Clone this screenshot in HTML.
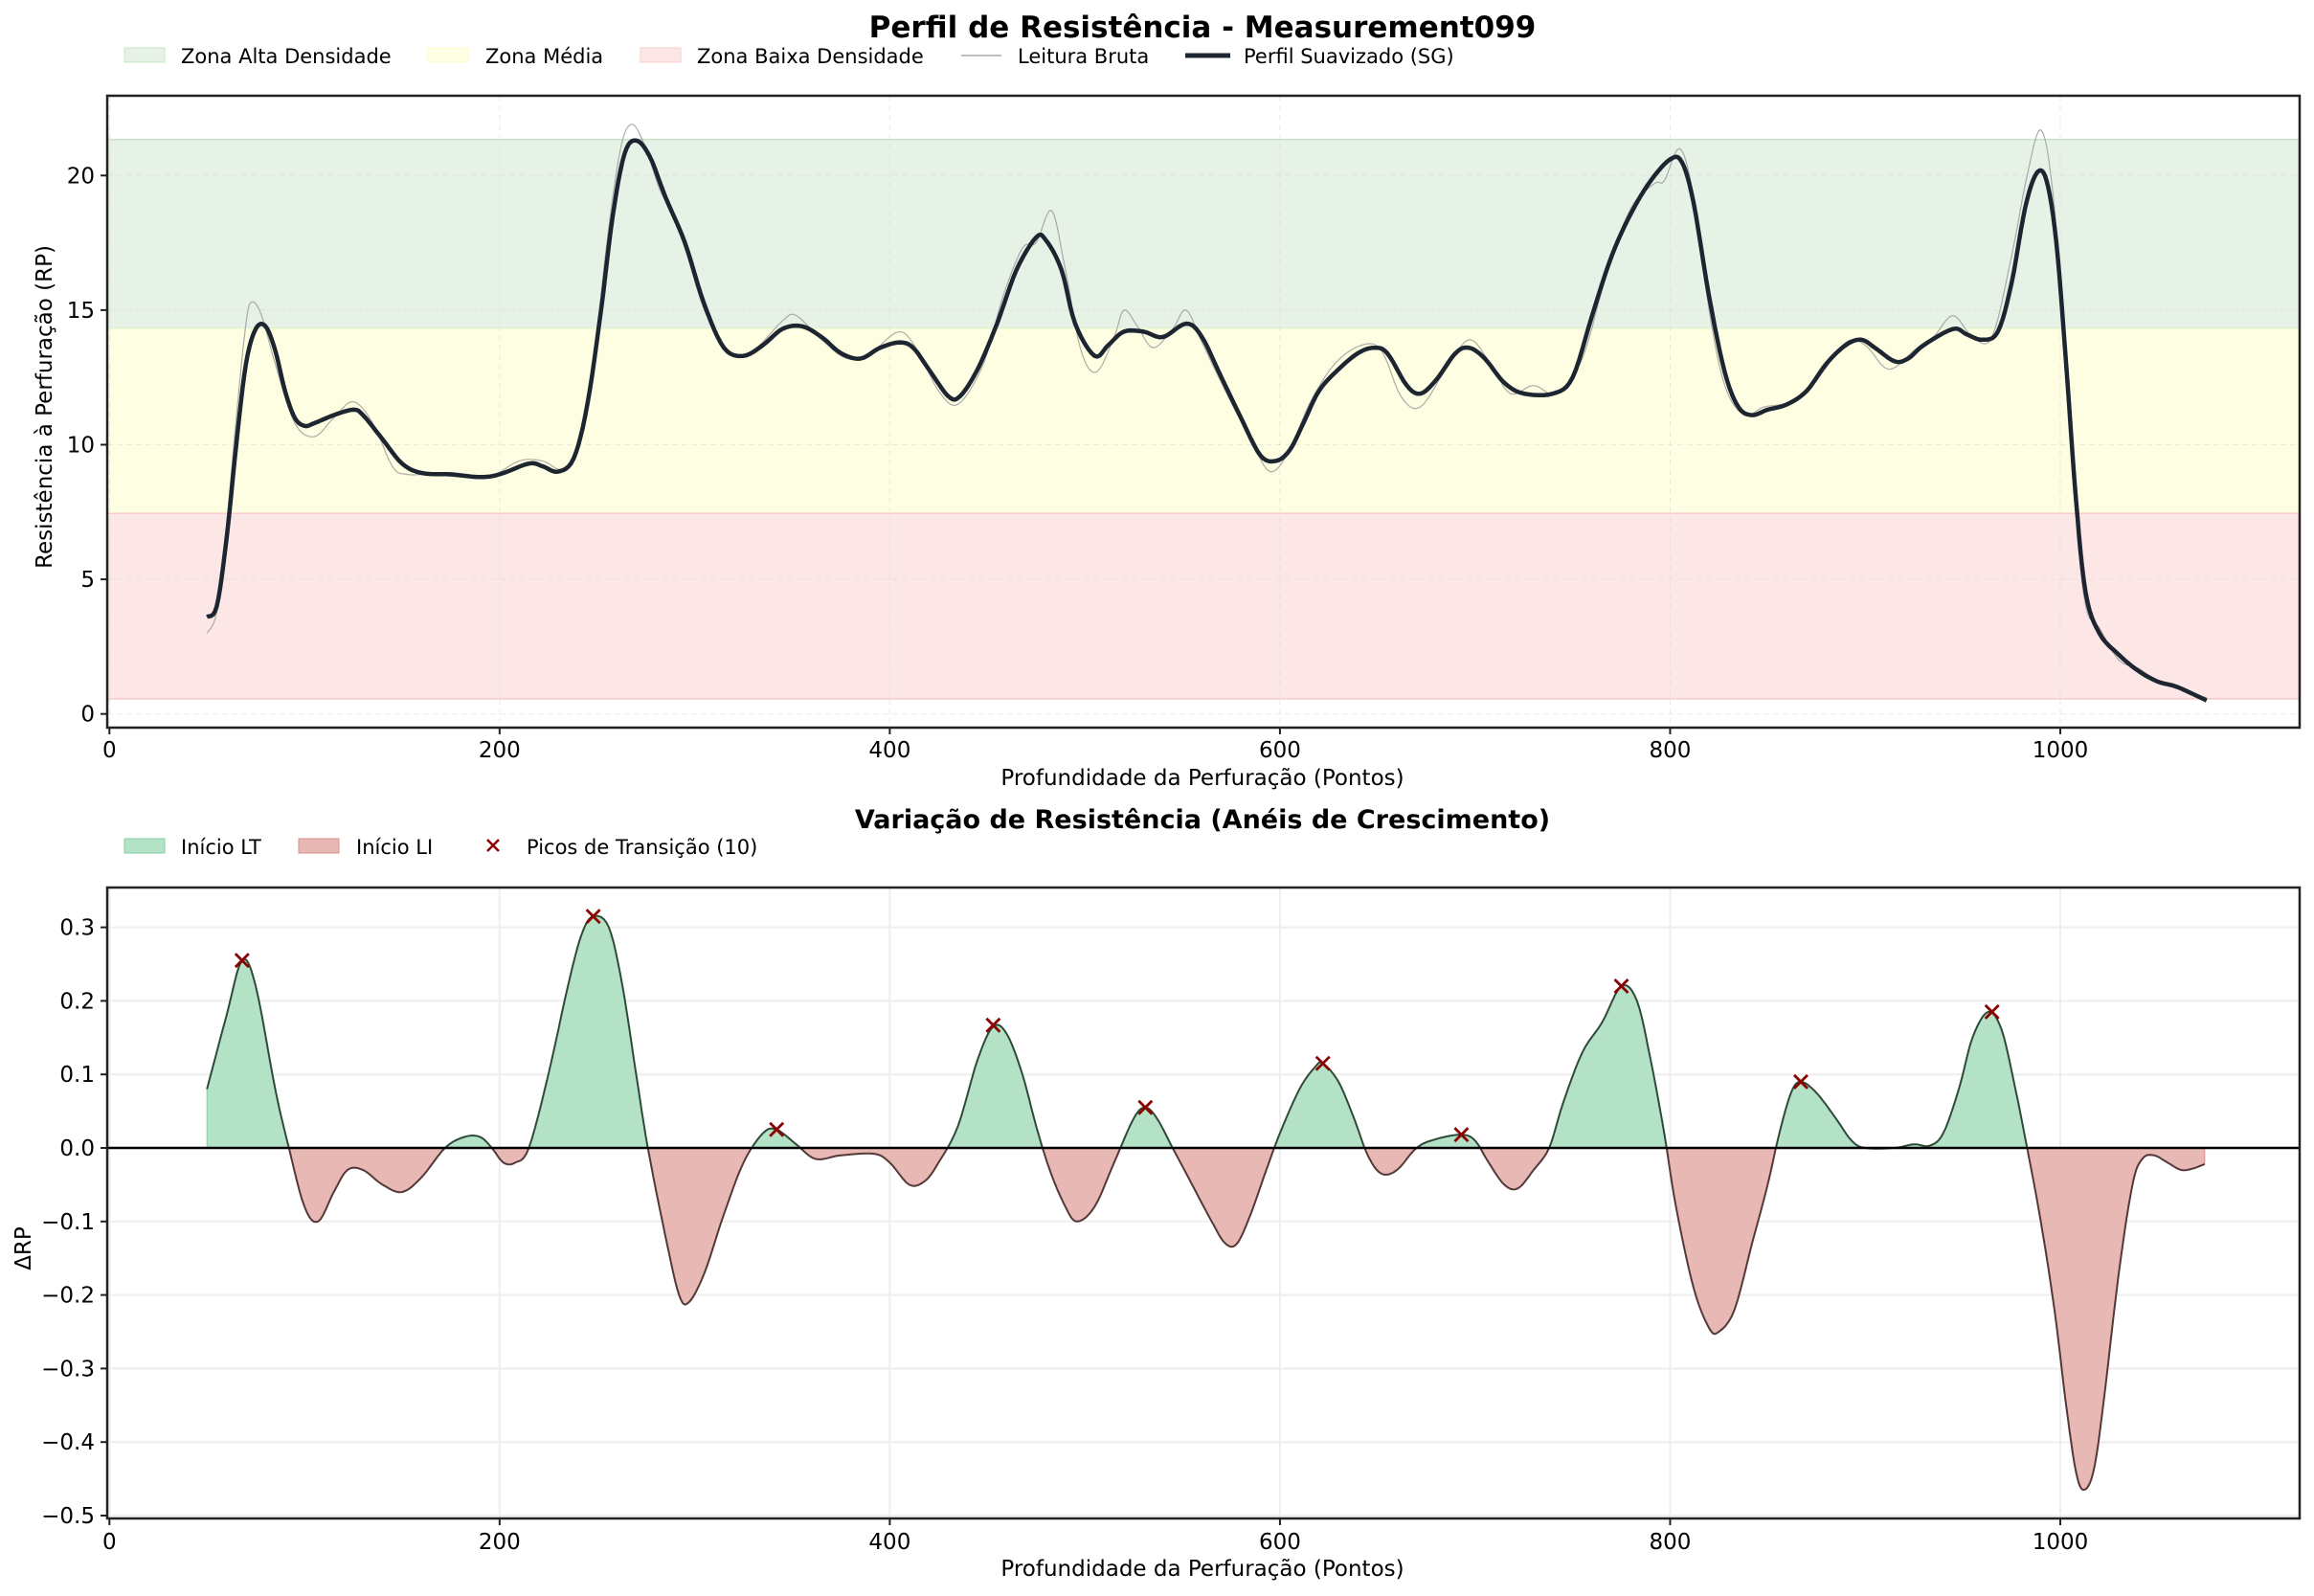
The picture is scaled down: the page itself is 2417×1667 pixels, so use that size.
<!DOCTYPE html>
<html><head><meta charset="utf-8"><style>
html,body{margin:0;padding:0;background:#fff;}
svg{display:block;font-family:"DejaVu Sans","Liberation Sans",sans-serif;}
</style></head><body>
<svg id="s" width="2417" height="1667" viewBox="0 0 2417 1667" xmlns="http://www.w3.org/2000/svg">
<defs>
<clipPath id="c1"><rect x="112" y="100" width="2290" height="660"/></clipPath>
<clipPath id="cp"><rect x="112" y="927" width="2290" height="272"/></clipPath>
<clipPath id="cn"><rect x="112" y="1199" width="2290" height="387"/></clipPath>
</defs>
<g id="g"></g>
<!-- titles -->
<text x="1256" y="39" font-size="31" font-weight="bold" text-anchor="middle">Perfil de Resistência - Measurement099</text>
<text x="1256" y="865" font-size="27" font-weight="bold" text-anchor="middle">Variação de Resistência (Anéis de Crescimento)</text>
<!-- top legend -->
<g font-size="21">
<rect x="130" y="50" width="42" height="15" fill="#e5f2e5" stroke="#c8e4c8"/>
<text x="189" y="66">Zona Alta Densidade</text>
<rect x="447" y="50" width="42" height="15" fill="#fefee3" stroke="#fbfbcc"/>
<text x="507" y="66">Zona Média</text>
<rect x="669" y="50" width="42" height="15" fill="#fde6e6" stroke="#f9cccc"/>
<text x="728" y="66">Zona Baixa Densidade</text>
<line x1="1004" y1="58" x2="1046" y2="58" stroke="#aaa" stroke-width="1.5"/>
<text x="1063" y="66">Leitura Bruta</text>
<line x1="1238" y1="58" x2="1285" y2="58" stroke="#1c2530" stroke-width="5"/>
<text x="1299" y="66">Perfil Suavizado (SG)</text>
</g>
<!-- bottom legend -->
<g font-size="21">
<rect x="130" y="876" width="42" height="15" fill="#b3e2c6" stroke="#86cfa3"/>
<text x="189" y="892">Início LT</text>
<rect x="312" y="876" width="42" height="15" fill="#e8b8b5" stroke="#d9908b"/>
<text x="372" y="892">Início LI</text>
<path d="M509,877 l12,12 M521,877 l-12,12" stroke="#8b0000" stroke-width="2.5"/>
<text x="550" y="892">Picos de Transição (10)</text>
</g>
<!-- axis labels -->
<g font-size="23">
<text x="1256" y="820" text-anchor="middle">Profundidade da Perfuração (Pontos)</text>
<text x="1256" y="1646" text-anchor="middle">Profundidade da Perfuração (Pontos)</text>
<text transform="translate(54,425) rotate(-90)" text-anchor="middle">Resistência à Perfuração (RP)</text>
<text transform="translate(32,1304) rotate(-90)" text-anchor="middle">ΔRP</text>
</g>
</svg>
<script>
var NS="http://www.w3.org/2000/svg",G=document.getElementById('g');
function el(t,a,p){var e=document.createElementNS(NS,t);for(var k in a)e.setAttribute(k,a[k]);(p||G).appendChild(e);return e;}
function X(v){return 114.3+v*2.0377;}
function Y1(v){return 745.7-v*28.12;}
function Y2(v){return 1199-v*768;}
function spline(pts,n){var out=[];for(var i=0;i<pts.length-1;i++){var p0=pts[Math.max(i-1,0)],p1=pts[i],p2=pts[i+1],p3=pts[Math.min(i+2,pts.length-1)];
for(var j=0;j<n;j++){var t=j/n,t2=t*t,t3=t2*t;
var f=function(a,b,c,d){return 0.5*((2*b)+(-a+c)*t+(2*a-5*b+4*c-d)*t2+(-a+3*b-3*c+d)*t3);};
out.push([f(p0[0],p1[0],p2[0],p3[0]),f(p0[1],p1[1],p2[1],p3[1])]);}}out.push(pts[pts.length-1]);return out;}
var S=[[50,3.6],[55,4],[60,6.5],[65,10],[70,13],[75,14.3],[80,14.4],[85,13.5],[90,12],[95,11],[100,10.7],[105,10.8],[115,11.1],[125,11.3],[130,11.1],[140,10.2],[150,9.3],[160,8.95],[175,8.9],[190,8.8],[200,8.9],[215,9.3],[222,9.2],[230,9.0],[238,9.5],[245,11.5],[252,15],[258,18.5],[264,20.8],[270,21.3],[277,20.7],[285,19.2],[295,17.5],[305,15.2],[315,13.6],[325,13.3],[335,13.7],[345,14.3],[355,14.4],[365,14],[375,13.4],[385,13.2],[395,13.6],[405,13.8],[412,13.6],[420,12.8],[430,11.8],[436,11.8],[445,12.8],[455,14.5],[465,16.5],[475,17.7],[480,17.6],[488,16.5],[495,14.5],[505,13.3],[512,13.7],[520,14.2],[530,14.2],[540,14],[552,14.5],[560,14],[570,12.5],[580,11],[590,9.6],[598,9.4],[605,9.8],[612,10.8],[620,12],[630,12.8],[640,13.4],[648,13.6],[655,13.4],[665,12.2],[672,11.9],[680,12.4],[690,13.4],[697,13.6],[705,13.2],[715,12.3],[725,11.9],[740,11.9],[750,12.5],[760,14.8],[770,17],[780,18.6],[790,19.8],[800,20.6],[806,20.5],[812,19],[820,15.5],[828,12.7],[835,11.4],[842,11.1],[850,11.3],[860,11.5],[870,12],[880,13],[890,13.7],[898,13.9],[905,13.6],[915,13.1],[922,13.2],[930,13.7],[945,14.3],[952,14.1],[960,13.9],[968,14.2],[975,16],[982,18.8],[988,20.1],[993,19.8],[998,17.5],[1003,13],[1008,8],[1013,4.5],[1020,3],[1030,2.2],[1040,1.6],[1050,1.2],[1060,1],[1075,0.5]];
var R=[[50,3.0],[55,3.8],[60,7],[65,11],[70,14.5],[73,15.3],[78,14.8],[85,13],[95,10.8],[105,10.3],[115,11],[125,11.6],[135,10.8],[145,9.2],[152,8.9],[165,8.9],[180,8.8],[195,8.8],[210,9.4],[222,9.4],[232,9.1],[240,10],[248,13],[255,17.5],[262,21],[268,21.9],[275,21],[282,19.5],[292,18],[305,15],[318,13.4],[330,13.5],[345,14.6],[352,14.8],[365,13.9],[378,13.2],[390,13.4],[405,14.2],[415,13.4],[425,12],[435,11.5],[448,13],[458,15.5],[468,17.3],[475,17.5],[483,18.7],[490,16.5],[498,13.5],[506,12.7],[515,14],[520,15],[527,14.4],[535,13.6],[545,14.3],[552,15],[560,13.8],[572,12],[585,10.2],[595,9],[605,9.8],[615,11.5],[628,13],[642,13.7],[652,13.5],[662,11.8],[672,11.4],[685,12.8],[697,13.9],[708,13],[718,11.9],[730,12.2],[742,11.9],[755,13.2],[768,16.5],[780,18.8],[792,19.7],[797,19.8],[805,21],[812,19.2],[820,15],[828,12.2],[838,11.1],[848,11.4],[862,11.6],[875,12.4],[890,13.8],[900,13.7],[912,12.8],[925,13.5],[935,14],[945,14.8],[955,14],[965,14],[975,17],[983,20],[990,21.7],[996,19.5],[1002,14],[1008,7.5],[1013,4],[1020,3.2],[1030,2],[1040,1.7],[1050,1.2],[1062,0.9],[1075,0.6]];
var D=[[50,0.08],[60,0.18],[68,0.255],[75,0.22],[85,0.08],[92,0],[100,-0.08],[107,-0.1],[115,-0.06],[122,-0.03],[130,-0.03],[140,-0.05],[150,-0.06],[160,-0.04],[172,0],[182,0.015],[190,0.015],[196,0],[202,-0.02],[208,-0.02],[215,0],[225,0.1],[235,0.22],[242,0.29],[248,0.315],[256,0.3],[263,0.22],[270,0.1],[276,0],[285,-0.12],[292,-0.2],[297,-0.21],[305,-0.17],[315,-0.09],[325,-0.02],[335,0.02],[342,0.025],[352,0.005],[362,-0.015],[375,-0.01],[392,-0.008],[400,-0.02],[410,-0.05],[418,-0.045],[425,-0.02],[435,0.03],[445,0.12],[453,0.165],[460,0.155],[468,0.1],[475,0.03],[482,-0.03],[490,-0.08],[496,-0.1],[505,-0.08],[515,-0.02],[525,0.04],[531,0.055],[537,0.04],[545,0],[555,-0.05],[565,-0.1],[572,-0.13],[578,-0.13],[585,-0.09],[593,-0.03],[600,0.02],[610,0.08],[618,0.11],[622,0.115],[630,0.09],[638,0.04],[645,-0.01],[652,-0.035],[660,-0.03],[670,0],[680,0.012],[693,0.018],[700,0.01],[707,-0.02],[715,-0.05],[722,-0.055],[730,-0.03],[738,0],[745,0.06],[755,0.13],[765,0.17],[775,0.22],[783,0.2],[790,0.12],[797,0.02],[803,-0.08],[812,-0.19],[820,-0.245],[825,-0.25],[833,-0.22],[842,-0.13],[850,-0.05],[856,0.02],[862,0.075],[867,0.09],[875,0.075],[885,0.04],[893,0.01],[900,0],[915,0],[925,0.005],[933,0.003],[940,0.02],[948,0.08],[955,0.15],[963,0.185],[970,0.16],[977,0.08],[983,0],[990,-0.1],[997,-0.22],[1003,-0.35],[1008,-0.44],[1012,-0.465],[1017,-0.44],[1022,-0.35],[1030,-0.17],[1037,-0.05],[1042,-0.015],[1048,-0.01],[1055,-0.02],[1062,-0.03],[1068,-0.028],[1074,-0.022]];
function pathOf(pts,fy){return pts.map(function(p,i){return (i?'L':'M')+X(p[0]).toFixed(1)+','+fy(p[1]).toFixed(1);}).join('');}
el('rect',{x:112,y:145.7,width:2290,height:Y1(14.3)-145.7,fill:'#e5f2e5',stroke:'#c8e4c8','stroke-width':1.5});
el('rect',{x:112,y:Y1(14.3),width:2290,height:Y1(7.45)-Y1(14.3),fill:'#fefee3',stroke:'#fbfbcc','stroke-width':1});
el('rect',{x:112,y:Y1(7.45),width:2290,height:730-Y1(7.45),fill:'#fde6e6',stroke:'#f9cccc','stroke-width':1.5});
[0,200,400,600,800,1000].forEach(function(v){el('line',{x1:X(v),y1:100,x2:X(v),y2:760,stroke:'#ddd','stroke-width':1,'stroke-dasharray':'6,4',opacity:0.6});});
[0,5,10,15,20].forEach(function(v){el('line',{x1:112,y1:Y1(v),x2:2402,y2:Y1(v),stroke:'#ddd','stroke-width':1,'stroke-dasharray':'6,4',opacity:0.6});});
var gt=el('g',{'clip-path':'url(#c1)'});
el('path',{d:pathOf(spline(R,6),Y1),fill:'none',stroke:'#999','stroke-width':1.2,opacity:0.8},gt);
el('path',{d:pathOf(spline(S,6),Y1),fill:'none',stroke:'#1c2530','stroke-width':4.5,'stroke-linejoin':'round'},gt);
el('rect',{x:112,y:100,width:2290,height:660,fill:'none',stroke:'#222','stroke-width':2.5});
[0,200,400,600,800,1000].forEach(function(v){el('line',{x1:X(v),y1:760,x2:X(v),y2:767,stroke:'#222','stroke-width':2});var t=el('text',{x:X(v),y:791,'font-size':23,'text-anchor':'middle'});t.textContent=v;});
[0,5,10,15,20].forEach(function(v){el('line',{x1:105,y1:Y1(v),x2:112,y2:Y1(v),stroke:'#222','stroke-width':2});var t=el('text',{x:99,y:Y1(v)+8,'font-size':23,'text-anchor':'end'});t.textContent=v;});
[0,200,400,600,800,1000].forEach(function(v){el('line',{x1:X(v),y1:927,x2:X(v),y2:1586,stroke:'#eee','stroke-width':2});});
var yt=[0.3,0.2,0.1,0,-0.1,-0.2,-0.3,-0.4,-0.5];
yt.forEach(function(v){el('line',{x1:112,y1:Y2(v),x2:2402,y2:Y2(v),stroke:'#eee','stroke-width':2});});
var dp=spline(D,6);
var area=pathOf(dp,Y2)+'L'+X(1074).toFixed(1)+','+Y2(0)+'L'+X(50).toFixed(1)+','+Y2(0)+'Z';
var gp=el('g',{'clip-path':'url(#cp)'});
el('path',{d:area,fill:'#b3e2c6',stroke:'#86cfa3','stroke-width':1},gp);
el('path',{d:pathOf(dp,Y2),fill:'none',stroke:'#2f4a38','stroke-width':2},gp);
var gn=el('g',{'clip-path':'url(#cn)'});
el('path',{d:area,fill:'#e8b8b5',stroke:'#d9908b','stroke-width':1},gn);
el('path',{d:pathOf(dp,Y2),fill:'none',stroke:'#553838','stroke-width':2},gn);
el('line',{x1:112,y1:Y2(0),x2:2402,y2:Y2(0),stroke:'#000','stroke-width':2.5});
[[68,.255],[248,.315],[342,.025],[453,.167],[531,.055],[622,.115],[693,.018],[775,.22],[867,.09],[965,.185]].forEach(function(p){var x=X(p[0]),y=Y2(p[1]);el('path',{d:'M'+(x-7)+','+(y-7)+'l14,14M'+(x+7)+','+(y-7)+'l-14,14',stroke:'#8b0000','stroke-width':2.8});});
el('rect',{x:112,y:927,width:2290,height:659,fill:'none',stroke:'#222','stroke-width':2.5});
[0,200,400,600,800,1000].forEach(function(v){el('line',{x1:X(v),y1:1586,x2:X(v),y2:1593,stroke:'#222','stroke-width':2});var t=el('text',{x:X(v),y:1618,'font-size':23,'text-anchor':'middle'});t.textContent=v;});
yt.forEach(function(v){el('line',{x1:105,y1:Y2(v),x2:112,y2:Y2(v),stroke:'#222','stroke-width':2});var t=el('text',{x:99,y:Y2(v)+8,'font-size':23,'text-anchor':'end'});t.textContent=(v<0?'\u2212'+(-v).toFixed(1):v.toFixed(1));});
</script>
</body></html>
